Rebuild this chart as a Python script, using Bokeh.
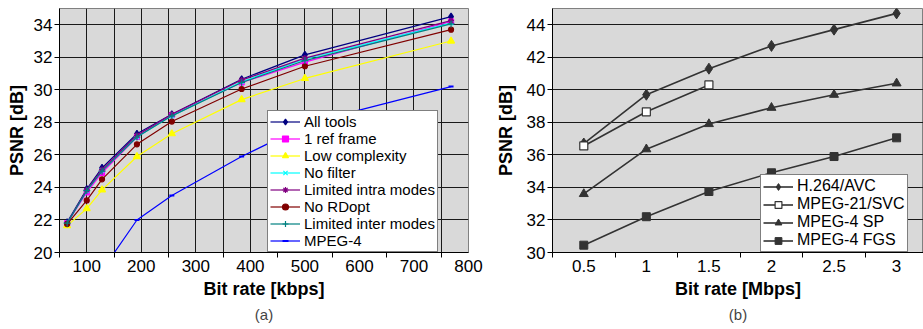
from bokeh.plotting import figure
from bokeh.layouts import row
from bokeh.models import FixedTicker, Title, Legend
from bokeh.embed import file_html
from bokeh.resources import INLINE

# ---------------- data: chart (a) ----------------
rates_kbps = [64, 100, 128, 192, 256, 384, 500, 768]
all_tools = [21.85, 23.9, 25.2, 27.3, 28.5, 30.65, 32.15, 34.5]
one_ref_frame = [21.8, 23.7, 24.9, 27.1, 28.45, 30.45, 31.7, 34.2]
low_complexity = [21.65, 22.7, 23.85, 25.9, 27.3, 29.4, 30.7, 33.0]
no_filter = [21.8, 23.8, 25.05, 27.1, 28.4, 30.5, 31.9, 34.1]
limited_intra = [21.8, 23.85, 25.1, 27.2, 28.5, 30.6, 31.95, 34.25]
no_rdopt = [21.75, 23.2, 24.5, 26.65, 28.05, 30.05, 31.45, 33.7]
limited_inter = [21.8, 23.8, 25.0, 27.1, 28.4, 30.45, 31.8, 34.05]
mpeg4_rates = [128, 192, 256, 384, 512, 768]
mpeg4 = [18.9, 22.0, 23.5, 25.9, 28.0, 30.2]
ticks_a = [100, 200, 300, 400, 500, 600, 700, 800]
minor_ticks_a = [50, 150, 250, 350, 450, 550, 650, 750]
yticks_a = [20, 22, 24, 26, 28, 30, 32, 34]

# ---------------- data: chart (b) ----------------
rates_mbps = [0.5, 1, 1.5, 2, 2.5, 3]
rate_labels = ["0.5", "1", "1.5", "2", "2.5", "3"]
h264_avc = [36.7, 39.7, 41.3, 42.7, 43.7, 44.7]
svc_rates = [0.5, 1, 1.5]
mpeg21_svc = [36.55, 38.65, 40.3]
mpeg4_sp = [33.6, 36.35, 37.9, 38.9, 39.7, 40.4]
mpeg4_fgs = [30.45, 32.2, 33.75, 34.9, 35.9, 37.05]
yticks_b = [30, 32, 34, 36, 38, 40, 42, 44]
minor_ticks_b = [0.25, 0.75, 1.25, 1.75, 2.25, 2.75, 3.25]

FONT = "Liberation Sans"


def style_axes(p, xlabel):
    for ax in (p.xaxis[0], p.yaxis[0]):
        ax.axis_line_color = "black"
        ax.axis_line_width = 1
        ax.major_label_text_font = FONT
        ax.major_label_text_font_size = "17px"
        ax.major_label_text_color = "black"
        ax.axis_label_text_font = FONT
        ax.axis_label_text_font_size = "18px"
        ax.axis_label_text_font_style = "bold"
        ax.axis_label_text_color = "black"
        ax.major_tick_line_color = "black"
        ax.minor_tick_line_color = "black"
        ax.major_label_standoff = 2
    p.xaxis.axis_label = xlabel
    p.yaxis.axis_label = "PSNR [dB]"
    p.xaxis.axis_label_standoff = 4
    p.yaxis.major_tick_out = 5
    p.yaxis.major_tick_in = 0
    p.yaxis.minor_tick_out = 0
    p.yaxis.minor_tick_in = 0
    p.xaxis.major_tick_out = 0
    p.xaxis.major_tick_in = 0
    p.xaxis.minor_tick_out = 5
    p.xaxis.minor_tick_in = 0


# ---------------- chart (a) ----------------
pa = figure(width=483, height=329, x_range=(50, 800), y_range=(20, 35),
            output_backend="svg", toolbar_location=None,
            min_border_left=59, min_border_right=15, min_border_top=8,
            min_border_bottom=77,
            background_fill_color="#d9d9d9", border_fill_color="white",
            outline_line_color="#808080")
pa.xaxis.ticker = FixedTicker(ticks=ticks_a, minor_ticks=minor_ticks_a)
pa.yaxis.ticker = FixedTicker(ticks=yticks_a)
style_axes(pa, "Bit rate [kbps]")
pa.yaxis.axis_label_standoff = 4
pa.xgrid.grid_line_color = "#1a1a1a"
pa.xgrid.minor_grid_line_color = "#1a1a1a"
pa.ygrid.grid_line_color = "#1a1a1a"

series_a = [
    ("All tools", all_tools, "#000080", "diamond", 7),
    ("1 ref frame", one_ref_frame, "#FF00FF", "square", 5),
    ("Low complexity", low_complexity, "#FFFF00", "triangle", 7),
    ("No filter", no_filter, "#00FFFF", "x", 6),
    ("Limited intra modes", limited_intra, "#800080", "asterisk", 6),
    ("No RDopt", no_rdopt, "#800000", "circle", 5),
    ("Limited inter modes", limited_inter, "#008080", "cross", 7),
]
items_a = []
for name, ys, col, mk, sz in series_a:
    r1 = pa.line(rates_kbps, ys, line_color=col, line_width=1.2)
    r2 = pa.scatter(rates_kbps, ys, marker=mk, size=sz, line_color=col,
                    fill_color=col, line_width=1.2)
    items_a.append((name, [r1, r2]))
r1 = pa.line(mpeg4_rates, mpeg4, line_color="#0000FF", line_width=1.2)
r2 = pa.scatter(mpeg4_rates, mpeg4, marker="dash", size=5, line_color="#0000FF",
                line_width=2)
items_a.append(("MPEG-4", [r1, r2]))

leg_a = Legend(items=items_a, location=(208, 0), padding=2, spacing=0,
               margin=0, glyph_width=30, glyph_height=15, label_height=15,
               label_standoff=4, label_text_font=FONT,
               label_text_font_size="15px",
               label_text_color="black",
               border_line_color="black", border_line_width=1,
               background_fill_color="white", background_fill_alpha=1)
pa.add_layout(leg_a, "center")
pa.add_layout(Title(text="(a)", align="center", text_font=FONT,
                    text_font_size="15px", text_font_style="normal",
                    standoff=5, offset=-10), "below")

# ---------------- chart (b) ----------------
pb = figure(width=440, height=329, x_range=(0.25, 3.215), y_range=(30, 45),
            output_backend="svg", toolbar_location=None,
            min_border_left=69, min_border_right=0, min_border_top=8,
            min_border_bottom=77,
            background_fill_color="#d9d9d9", border_fill_color="white",
            outline_line_color="#808080")
pb.xaxis.ticker = FixedTicker(ticks=rates_mbps, minor_ticks=minor_ticks_b)
pb.xaxis.major_label_overrides = {t: l for t, l in zip(rates_mbps, rate_labels)}
pb.yaxis.ticker = FixedTicker(ticks=yticks_b)
style_axes(pb, "Bit rate [Mbps]")
pb.yaxis.axis_label_standoff = 8
pb.xgrid.grid_line_color = None
pb.ygrid.grid_line_color = "#1a1a1a"

dark = "#333333"
items_b = []
r1 = pb.line(rates_mbps, h264_avc, line_color=dark, line_width=1.6)
r2 = pb.scatter(rates_mbps, h264_avc, marker="diamond", size=11,
                line_color=dark, fill_color=dark)
items_b.append(("H.264/AVC", [r1, r2]))
r1 = pb.line(svc_rates, mpeg21_svc, line_color=dark, line_width=1.6)
r2 = pb.scatter(svc_rates, mpeg21_svc, marker="square", size=8,
                line_color=dark, fill_color="white", line_width=1.2)
items_b.append(("MPEG-21/SVC", [r1, r2]))
r1 = pb.line(rates_mbps, mpeg4_sp, line_color=dark, line_width=1.6)
r2 = pb.scatter(rates_mbps, mpeg4_sp, marker="triangle", size=9,
                line_color=dark, fill_color=dark)
items_b.append(("MPEG-4 SP", [r1, r2]))
r1 = pb.line(rates_mbps, mpeg4_fgs, line_color=dark, line_width=1.6)
r2 = pb.scatter(rates_mbps, mpeg4_fgs, marker="square", size=8,
                line_color=dark, fill_color=dark)
items_b.append(("MPEG-4 FGS", [r1, r2]))

leg_b = Legend(items=items_b, location=(208, 0), padding=2, spacing=0,
               margin=0, glyph_width=30, glyph_height=17, label_height=17,
               label_standoff=4, label_text_font=FONT,
               label_text_font_size="16px",
               label_text_color="black",
               border_line_color="black", border_line_width=1,
               background_fill_color="white", background_fill_alpha=1)
pb.add_layout(leg_b, "center")
pb.add_layout(Title(text="(b)", align="center", text_font=FONT,
                    text_font_size="15px", text_font_style="normal",
                    standoff=5, offset=-10), "below")

layout = row(pa, pb)
open("out.html", "w").write(file_html(layout, INLINE))
